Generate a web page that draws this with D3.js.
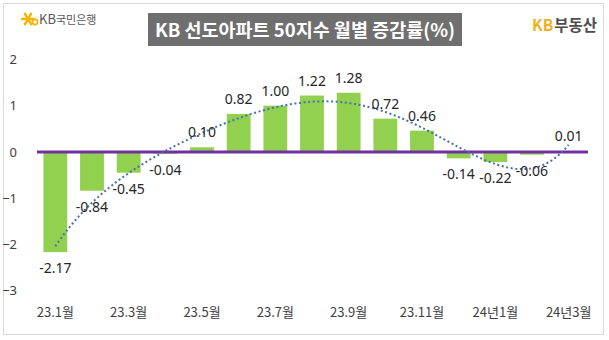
<!DOCTYPE html>
<html>
<head>
<meta charset="utf-8">
<script src="https://cdn.jsdelivr.net/npm/d3@7"></script>
<style>
  html, body { margin: 0; padding: 0; background: #fff; }
  svg { display: block; }
  text { font-family: "Noto Sans CJK KR", "Noto Sans", sans-serif; }
</style>
</head>
<body>
<svg id="chart" width="609" height="340"></svg>
<script>
// Monthly change of the KB leading-apartment 50 index (%)
const months = ["23.1", "23.2", "23.3", "23.4", "23.5", "23.6", "23.7", "23.8", "23.9", "23.10", "23.11", "23.12", "24.1", "24.2", "24.3"];
const changes = [-2.17, -0.84, -0.45, -0.04, 0.10, 0.82, 1.00, 1.22, 1.28, 0.72, 0.46, -0.14, -0.22, -0.06, 0.01];
const tickLabels = ["23.1월", "", "23.3월", "", "23.5월", "", "23.7월", "", "23.9월", "", "23.11월", "", "24년1월", "", "24년3월"];
const yTicks = [2, 1, 0, -1, -2, -3];
const titleText = "KB 선도아파트 50지수 월별 증감률(%)";
const trendOrder = 5;

const svg = d3.select("#chart");

// outer frame
svg.append("rect")
  .attr("x", 3.5).attr("y", 3.5).attr("width", 600).attr("height", 331)
  .attr("fill", "#fff").attr("stroke", "#d9d9d9").attr("stroke-width", 1);

// scales
const x = d3.scaleBand().domain(months).range([37, 587]).paddingInner(0.35).paddingOuter(0.175);
const y = d3.scaleLinear().domain([-3, 2]).range([290.5, 59.5]);
const cx = i => x(months[i]) + x.bandwidth() / 2;

// y axis labels (no axis line)
const yAxis = d3.axisLeft(y).tickValues(yTicks).tickSize(0).tickPadding(0).tickFormat(d3.format("d"));
const gy = svg.append("g").attr("transform", "translate(17,0)").call(yAxis);
gy.select(".domain").remove();
gy.selectAll("text")
  .attr("fill", "#404040").style("font-size", "13px")
  .style("font-family", "'Noto Sans', sans-serif");

// bars
svg.append("g").selectAll("rect")
  .data(changes)
  .join("rect")
  .attr("x", (d, i) => x(months[i]))
  .attr("width", x.bandwidth())
  .attr("y", d => y(Math.max(0, d)))
  .attr("height", d => Math.abs(y(d) - y(0)))
  .attr("fill", "#92D050");

// zero line
svg.append("line")
  .attr("x1", 37).attr("x2", 588)
  .attr("y1", y(0)).attr("y2", y(0))
  .attr("stroke", "#7030A0").attr("stroke-width", 3);

// polynomial trend fitted by least squares (on a centred, scaled index)
function polyFit(xs, ys, order) {
  const n = order + 1;
  const A = Array.from({length: n}, () => new Array(n + 1).fill(0));
  for (let r = 0; r < n; r++) {
    for (let c = 0; c < n; c++) A[r][c] = d3.sum(xs, v => Math.pow(v, r + c));
    A[r][n] = d3.sum(xs, (v, k) => ys[k] * Math.pow(v, r));
  }
  for (let p = 0; p < n; p++) {
    let best = p;
    for (let r = p + 1; r < n; r++) if (Math.abs(A[r][p]) > Math.abs(A[best][p])) best = r;
    [A[p], A[best]] = [A[best], A[p]];
    for (let r = 0; r < n; r++) {
      if (r === p) continue;
      const f = A[r][p] / A[p][p];
      for (let c = p; c <= n; c++) A[r][c] -= f * A[p][c];
    }
  }
  return A.map((row, i) => row[n] / row[i]);
}
const mid = (changes.length + 1) / 2, half = (changes.length - 1) / 2;
const norm = t => (t - mid) / half;
const idx = changes.map((d, i) => norm(i + 1));
const coef = polyFit(idx, changes, trendOrder);
const trend = t => coef.reduce((s, c, k) => s + c * Math.pow(norm(t), k), 0);
const stepX = d3.scaleLinear().domain([1, changes.length]).range([cx(0), cx(changes.length - 1)]);
const samples = d3.range(1, changes.length + 0.001, 0.05);
svg.append("path")
  .datum(samples)
  .attr("d", d3.line().x(t => stepX(t)).y(t => y(trend(t))))
  .attr("fill", "none")
  .attr("stroke", "#4a6fb0")
  .attr("stroke-width", 2)
  .attr("stroke-dasharray", "2 2.6");

// value labels
svg.append("g").selectAll("text")
  .data(changes)
  .join("text")
  .attr("x", (d, i) => cx(i))
  .attr("y", d => d >= 0 ? y(d) - 10 : y(d) + 21)
  .attr("text-anchor", "middle")
  .attr("fill", "#262626")
  .style("font-size", "14px")
  .style("font-family", "'Noto Sans', sans-serif")
  .text(d => d.toFixed(2));

// x tick labels
svg.append("g").selectAll("text")
  .data(tickLabels)
  .join("text")
  .attr("x", (d, i) => cx(i))
  .attr("y", 317)
  .attr("text-anchor", "middle")
  .attr("fill", "#404040")
  .style("font-size", "13px")
  .text(d => d);

// title box
svg.append("rect")
  .attr("x", 148).attr("y", 13).attr("width", 314).attr("height", 33)
  .attr("fill", "#6f6f6f");
svg.append("text")
  .attr("x", 305).attr("y", 37)
  .attr("text-anchor", "middle")
  .attr("fill", "#fff")
  .style("font-size", "18.5px")
  .style("font-weight", "bold")
  .text(titleText);

// bank logo (left)
const logo = svg.append("g").attr("transform", "translate(28,19)");
[0, 60, 120].forEach(a => {
  logo.append("line")
    .attr("x1", -6).attr("x2", 6).attr("y1", 0).attr("y2", 0)
    .attr("transform", `rotate(${a})`)
    .attr("stroke", "#f5b400").attr("stroke-width", 2.4).attr("stroke-linecap", "round");
});
logo.append("circle").attr("cx", 7).attr("cy", 3).attr("r", 2.6)
  .attr("fill", "none").attr("stroke", "#f5b400").attr("stroke-width", 1.6);
svg.append("text")
  .attr("x", 39).attr("y", 24)
  .attr("fill", "#595959")
  .style("font-size", "13px")
  .text("KB")
  .append("tspan").style("font-size", "11px").text("국민은행");

// brand mark (right)
const brand = svg.append("text")
  .attr("x", 532).attr("y", 31)
  .style("font-size", "15.5px")
  .style("font-weight", "bold");
brand.append("tspan").attr("fill", "#f2b01e").text("KB");
brand.append("tspan").attr("fill", "#4d4d4d").attr("dx", 1).text("부동산");
</script>
</body>
</html>
